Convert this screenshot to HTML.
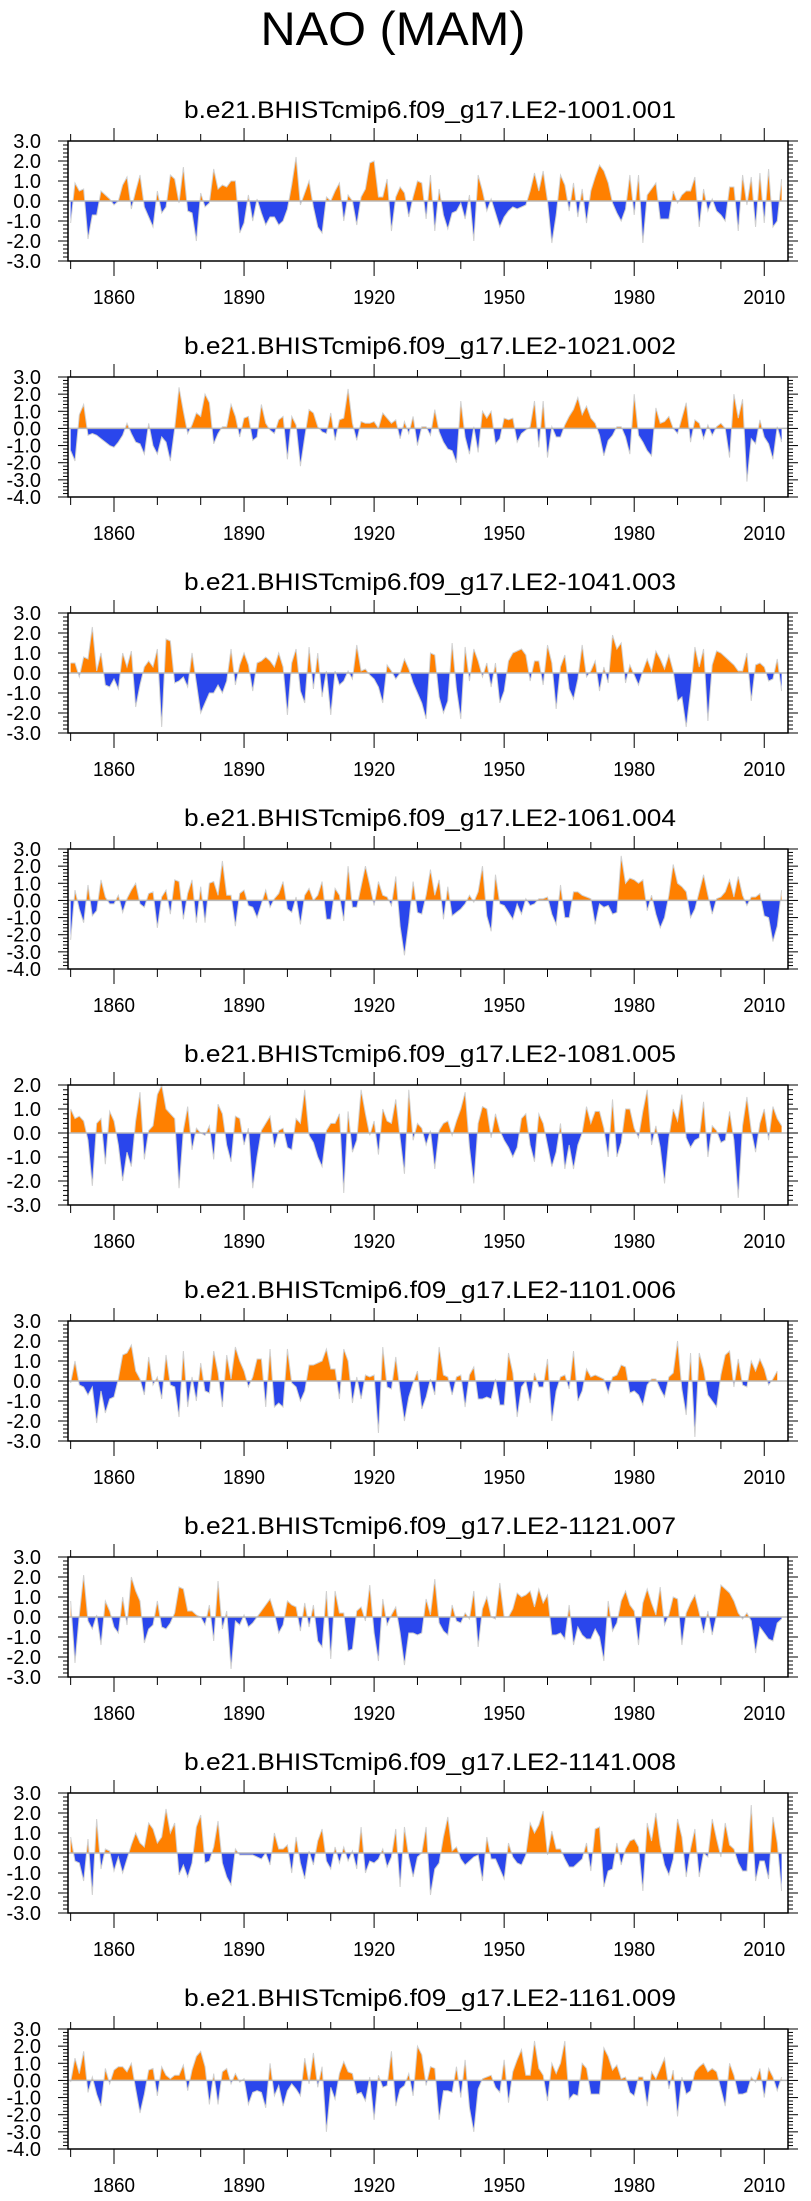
<!DOCTYPE html>
<html><head><meta charset="utf-8"><style>
html,body{margin:0;padding:0;background:#fff;}
svg{display:block;font-family:"Liberation Sans",Arial,sans-serif;}
</style></head><body>
<svg id="chart" width="811" height="2201" viewBox="0 0 811 2201" xmlns="http://www.w3.org/2000/svg">
<text x="393" y="45" font-size="47" text-anchor="middle" textLength="265" lengthAdjust="spacingAndGlyphs">NAO (MAM)</text>
</svg>
<script>
const startYear = 1850;
const titles = ["b.e21.BHISTcmip6.f09_g17.LE2-1001.001","b.e21.BHISTcmip6.f09_g17.LE2-1021.002","b.e21.BHISTcmip6.f09_g17.LE2-1041.003","b.e21.BHISTcmip6.f09_g17.LE2-1061.004","b.e21.BHISTcmip6.f09_g17.LE2-1081.005","b.e21.BHISTcmip6.f09_g17.LE2-1101.006","b.e21.BHISTcmip6.f09_g17.LE2-1121.007","b.e21.BHISTcmip6.f09_g17.LE2-1141.008","b.e21.BHISTcmip6.f09_g17.LE2-1161.009"];
const yMins = [-3,-4,-3,-4,-3,-3,-3,-3,-4];
const yMaxs = [3,3,3,3,2,3,3,3,3];
const xTickYears = [1860,1890,1920,1950,1980,2010];
const s1 = [-1.1,0.9,0.5,0.6,-1.9,-0.7,-0.7,0.5,0.3,0.1,-0.2,0.0,0.8,1.2,-0.4,0.5,1.3,-0.3,-0.8,-1.3,0.5,-0.6,-0.3,1.3,1.1,-0.1,1.7,-0.5,-0.6,-2.0,0.4,-0.3,-0.1,1.6,0.6,0.8,0.7,1.0,1.0,-1.6,-1.1,0.3,-1.0,0.1,-0.6,-1.2,-0.8,-0.8,-1.2,-1.0,-0.4,0.8,2.2,-0.2,0.4,1.0,-0.3,-1.3,-1.6,0.2,0.0,0.5,0.9,-1.0,0.3,0.0,-1.2,0.2,0.6,1.9,2.0,0.2,0.2,1.1,-1.5,0.2,0.7,0.4,-0.8,0.2,1.0,0.9,-0.9,1.3,-1.5,0.6,-0.7,-1.4,-0.6,-0.5,-0.1,-0.9,0.3,-2.0,1.3,0.5,-0.5,0.1,-0.6,-1.3,-0.8,-0.5,-0.3,-0.4,-0.3,-0.2,0.5,1.4,0.5,1.5,0.0,-2.1,-0.7,1.3,0.8,-0.5,0.9,-0.8,0.6,-1.1,0.5,1.2,1.8,1.5,0.9,-0.1,-0.6,-1.0,-0.4,1.3,-0.7,1.3,-2.1,0.3,0.6,0.9,-0.9,-0.9,-0.9,0.5,-0.1,0.3,0.5,0.5,1.2,-1.3,0.6,-0.5,0.1,-0.5,-0.7,-1.0,0.7,0.7,-1.5,1.3,-0.2,1.2,-1.3,1.4,-1.1,1.6,-1.3,-1.0,1.1];
const s2 = [-1.3,-1.9,0.8,1.4,-0.4,-0.3,-0.4,-0.6,-0.8,-1.0,-1.1,-0.8,-0.4,0.3,-0.3,-0.8,-0.9,-1.5,0.3,-1.0,-1.5,-0.5,-0.8,-1.9,0.0,2.4,1.0,-0.3,0.2,0.9,0.7,2.0,1.5,-0.9,-0.3,0.1,0.1,1.4,0.7,-0.5,0.6,0.7,-0.7,-0.5,1.4,0.3,-0.1,-0.3,0.5,0.7,-1.8,0.7,0.2,-2.2,-0.5,1.1,0.9,0.1,-0.2,-0.3,0.9,-0.7,0.5,0.6,2.3,0.3,-0.7,0.4,0.3,0.3,0.4,0.0,0.9,0.6,0.3,0.5,-0.6,0.4,-0.3,0.7,-1.0,0.1,0.1,-0.4,1.1,-0.2,-0.8,-1.2,-1.3,-2.0,1.6,-0.5,-1.5,0.1,-1.4,1.0,0.6,1.0,-0.9,-0.6,0.6,0.5,0.6,-0.8,-0.3,-0.1,0.1,1.6,-1.1,1.6,-1.7,0.1,-0.5,-0.5,0.2,0.7,1.1,1.8,0.8,1.3,0.6,0.3,-0.4,-1.6,-0.7,-0.4,0.1,0.1,-0.5,-1.5,2.0,-0.4,-0.8,-1.3,-1.6,1.2,0.3,0.4,0.7,0.0,-0.3,0.6,1.5,-0.8,0.5,0.3,-0.6,0.2,-0.4,0.1,0.3,0.0,-1.7,2.0,0.6,1.7,-3.1,-0.6,-0.9,0.5,-0.5,-0.9,-1.8,0.1,-0.8];
const s3 = [0.5,0.5,-0.2,0.8,0.7,2.3,0.1,1.0,-0.6,-0.7,-0.3,-0.8,1.0,0.3,1.1,-1.7,-0.6,0.3,0.6,0.3,1.2,-2.7,1.7,1.6,-0.5,-0.4,-0.2,-0.7,1.0,-0.5,-2.0,-1.5,-1.0,-1.0,-0.6,-1.0,-0.4,1.2,-0.6,0.4,1.0,0.4,-0.9,0.5,0.6,0.8,0.6,0.3,1.0,0.3,-2.1,0.5,1.2,-0.9,-1.5,1.3,-0.8,1.0,-1.2,0.1,-2.1,0.1,-0.6,-0.4,0.1,-0.3,1.4,0.1,0.2,-0.1,-0.3,-0.7,-1.5,0.4,0.1,-0.3,0.0,0.7,0.2,-0.5,-1.0,-1.5,-2.3,1.0,0.9,-1.2,-2.0,-1.4,1.5,-0.8,-2.3,1.3,-0.4,1.2,0.6,-0.2,0.5,-0.7,0.5,-1.5,-0.9,0.6,1.0,1.1,1.2,0.9,-0.4,0.6,0.6,-0.6,1.4,0.5,-1.8,0.3,0.9,-0.8,-1.3,-0.3,1.4,-0.2,0.1,0.6,-0.9,0.3,-0.5,1.9,1.2,1.5,-0.5,0.4,-0.1,-0.6,0.1,0.7,0.1,1.1,0.7,0.2,0.9,0.1,-1.4,-1.2,-2.7,-0.9,1.3,0.3,1.2,-2.4,0.4,1.1,1.0,0.8,0.6,0.4,0.1,0.1,1.0,-1.4,0.4,0.5,0.3,-0.4,-0.3,0.7,-0.9];
const s4 = [-2.3,0.6,-0.5,-1.3,0.9,-0.9,-0.6,1.2,0.2,-0.2,-0.2,0.3,-0.7,0.1,0.6,1.0,-0.2,-0.4,0.4,0.5,-1.6,0.2,0.6,-0.8,1.2,1.1,-1.1,0.4,1.2,-1.3,0.8,-1.3,1.0,1.1,0.3,2.3,0.3,0.3,-1.5,0.4,0.6,-0.3,-0.4,-1.0,-0.2,0.6,-0.4,0.1,0.4,1.1,-0.5,-0.7,0.2,-1.4,0.3,0.7,0.0,0.3,1.1,-1.1,-1.1,0.7,0.3,-1.2,2.0,-0.4,-0.4,0.8,2.0,0.9,-0.3,1.1,0.3,0.2,-0.3,1.4,-1.5,-3.2,-1.3,1.1,-0.7,-0.8,0.3,1.8,0.3,1.2,-1.1,0.8,-0.9,-0.7,-0.5,-0.2,0.3,-0.1,0.5,2.0,-0.9,-1.8,1.5,-0.2,-0.3,-0.7,-1.1,-0.2,-0.8,0.1,-0.3,-0.2,0.1,0.1,0.2,-0.8,-1.4,0.9,-1.0,-1.0,0.5,0.5,0.3,0.2,0.1,-1.4,-0.2,-0.4,-0.3,-0.8,-0.7,2.6,1.0,1.3,1.2,1.0,1.2,-0.6,0.3,-0.8,-1.6,-1.0,0.3,2.1,1.0,0.8,0.5,-1.0,-0.5,0.5,1.5,0.3,-0.8,0.1,0.2,0.5,1.2,0.2,1.4,0.3,-0.3,0.2,0.2,0.4,-0.9,-1.0,-2.4,-1.5,0.6];
const s5 = [1.0,0.6,0.7,0.5,-0.3,-2.2,0.4,0.6,-1.3,0.9,0.5,-0.5,-2.0,-0.8,-1.4,0.5,1.7,-1.1,0.1,0.3,1.6,2.0,1.0,0.8,0.6,-2.3,0.1,1.1,-0.7,0.2,0.0,-0.1,0.3,-1.1,1.2,0.8,-0.5,-1.2,0.7,0.6,-0.5,0.2,-2.3,-1.0,0.1,0.4,0.7,-0.6,0.1,0.2,-0.6,-0.7,0.6,0.4,1.8,-0.1,-0.4,-1.0,-1.4,0.1,0.4,0.4,0.8,-2.5,0.9,-0.8,-0.3,1.8,0.8,-0.1,0.5,-0.9,1.0,0.5,0.4,1.4,-0.2,-1.7,1.8,-0.3,0.4,0.2,-0.5,0.1,-1.5,0.1,0.4,0.5,-0.1,0.5,1.0,1.7,-0.6,-2.1,0.4,1.1,1.0,-0.2,0.8,0.1,-0.3,-0.6,-1.0,-0.6,0.6,0.8,-0.5,-1.2,0.8,0.4,-0.5,-1.4,-0.8,0.4,-1.5,-0.5,-1.5,-0.5,0.0,1.1,0.4,0.9,0.9,0.2,-1.0,1.4,-1.0,-0.4,1.0,1.0,0.2,-0.2,0.9,1.8,-0.5,0.3,-0.6,-2.1,-0.2,1.0,0.5,1.6,-0.2,-0.6,-0.3,-0.2,1.3,-1.0,0.3,0.1,-0.4,-0.3,0.9,-0.3,-2.7,0.3,1.5,0.1,-0.8,0.4,1.0,-0.3,1.1,0.6,0.3];
const s6 = [-0.1,1.0,-0.2,-0.3,-0.7,-0.3,-2.1,-0.5,-1.6,-0.9,-0.8,0.1,1.3,1.4,1.8,0.5,0.1,-0.7,1.2,-0.2,0.2,-0.9,1.3,-0.2,-0.3,-1.8,1.5,-1.3,0.2,-1.0,0.9,-0.5,-0.6,1.5,0.4,-1.3,1.3,0.1,1.7,1.0,0.5,-0.3,0.2,1.1,1.1,-1.3,1.6,-1.3,-1.1,-1.3,1.6,-0.1,-0.3,-1.0,-0.5,0.8,0.8,0.9,1.0,1.6,0.6,0.6,-0.9,1.6,1.0,-1.1,0.2,-0.9,0.3,0.2,0.3,-2.6,1.7,-0.3,-0.4,1.2,-0.5,-2.0,-0.8,-0.1,0.5,-1.4,-0.8,0.1,-0.7,1.7,0.3,0.2,-0.7,0.2,0.3,-1.3,0.3,0.7,-0.9,-0.9,-0.8,-0.9,0.1,-1.2,-1.2,1.4,0.4,-1.8,-0.3,0.0,-1.1,0.4,-0.3,-0.3,1.1,-2.0,-0.5,0.2,0.3,-0.4,1.5,-1.0,-0.5,0.6,0.2,0.3,0.2,0.1,-0.6,0.2,0.3,0.8,0.7,-0.6,-0.5,-0.7,-1.2,-0.2,0.1,0.1,-0.4,-0.8,0.2,0.4,2.0,-0.4,-1.7,1.4,-2.8,1.4,0.6,-0.7,-1.0,-1.3,0.3,1.3,1.5,-0.3,1.1,-0.2,-0.3,1.0,0.5,1.1,0.6,-0.2,0.1,0.5];
const s7 = [0.8,-2.3,0.1,2.1,-0.2,-0.6,0.1,-1.4,0.8,0.3,-0.5,-0.8,1.0,-0.4,2.0,1.3,0.8,-1.3,-0.6,-0.4,0.8,-0.5,-0.6,-0.3,0.2,1.5,1.4,0.3,0.3,0.1,0.0,-0.4,0.6,-1.2,1.8,-0.6,0.3,-2.6,-0.2,-0.4,0.1,-0.5,-0.3,0.0,0.3,0.6,0.9,0.2,-0.8,-0.4,0.8,0.6,0.5,-0.7,0.7,-0.5,0.6,-1.2,-1.5,1.3,-2.1,1.3,0.2,0.2,-1.7,-1.6,0.3,0.5,-0.2,1.6,-0.8,-2.2,0.9,-0.4,0.1,0.5,-0.8,-2.4,-0.8,-0.8,-0.9,-0.8,0.9,0.1,1.9,-0.3,-0.7,-0.9,0.6,-0.2,-0.3,0.2,-0.1,1.3,-1.5,0.4,1.0,0.0,-0.1,1.7,0.0,0.0,0.4,1.2,1.0,1.1,1.3,0.5,1.4,0.7,1.1,-0.9,-0.9,-0.8,-1.1,0.6,-1.4,-0.5,-0.9,-1.1,-1.1,-0.6,-1.0,-2.2,0.8,-0.7,-0.3,0.8,1.3,0.6,0.3,-1.4,0.7,1.4,0.7,0.1,1.5,-0.4,0.1,1.0,0.9,-1.4,0.2,0.7,1.1,0.2,-0.8,0.3,-0.9,0.1,1.6,1.4,1.2,0.8,0.2,-0.1,0.2,-0.2,-1.8,-0.5,-0.8,-1.1,-1.2,-0.3,-0.1];
const s8 = [0.8,-0.4,-0.5,-1.4,0.7,-2.1,1.7,-0.8,0.2,0.1,-0.9,-0.2,-1.0,-0.3,0.4,1.0,0.5,0.3,1.5,1.2,0.5,0.8,2.2,1.0,1.5,-1.1,-0.6,-1.2,-0.5,1.3,1.9,-0.5,-0.4,0.3,1.6,-0.5,-1.2,-1.6,0.2,-0.1,-0.1,-0.1,-0.1,-0.2,-0.3,0.0,-0.6,1.0,0.2,0.2,0.4,-1.0,0.8,-0.5,-1.3,0.1,-0.6,0.6,1.2,-0.4,-0.8,0.3,-0.5,0.3,-0.4,0.1,-0.8,1.3,-1.0,-0.4,-0.5,-0.3,0.2,-0.7,-0.2,1.2,-1.7,1.3,-0.2,-1.2,-0.2,0.0,1.3,-2.1,-0.8,-0.5,0.8,1.8,0.1,0.3,-0.3,-0.6,-0.4,-0.2,-0.1,-1.4,0.8,-0.3,-0.3,-0.8,-1.3,0.5,-0.2,-0.5,-0.6,-0.1,1.5,1.0,1.4,2.1,-0.1,1.1,0.2,0.2,-0.3,-0.7,-0.7,-0.5,-0.3,0.5,-0.9,1.2,1.3,-1.7,-0.9,-0.8,0.5,-0.6,0.2,0.6,0.7,0.3,-1.9,1.5,0.6,2.0,0.4,-0.6,-1.1,-0.3,1.7,0.8,-1.2,0.2,1.2,-1.2,0.0,-0.2,1.7,0.7,-0.2,1.5,0.4,0.2,-0.5,-0.9,-0.9,2.4,-1.4,-0.4,-0.4,-1.3,1.8,0.5,-1.9];
const s9 = [-0.1,1.3,0.4,1.7,-0.7,0.2,-0.8,-1.5,0.7,-0.2,0.6,0.8,0.8,0.5,1.0,-0.5,-1.9,-0.8,0.6,0.7,-0.9,0.8,0.3,0.1,0.3,0.3,0.9,-0.6,0.6,1.4,1.7,0.8,-1.4,0.4,-1.4,0.5,0.7,-0.2,0.4,-0.1,0.1,-1.4,-0.7,-0.6,-0.7,-1.6,1.0,-0.9,-0.3,-1.5,-0.6,-0.2,-0.5,-0.9,1.3,-0.2,1.6,-0.4,0.8,-3.0,-0.4,-1.1,0.4,1.1,0.5,0.4,-0.8,-0.7,-1.2,0.2,-2.3,0.3,-0.4,-0.3,1.7,-1.5,-0.5,-0.3,0.4,-0.9,2.0,1.5,-0.3,0.8,0.7,-2.3,-0.6,-0.6,-0.7,0.8,-1.0,1.2,-1.6,-3.0,-0.5,0.1,0.2,0.3,-0.4,-0.7,1.2,-1.3,0.5,1.2,1.8,0.3,0.3,2.3,0.7,0.3,-1.2,1.0,0.4,1.0,2.3,-1.1,-0.8,-0.9,1.0,0.7,-0.8,-0.8,-0.8,1.9,1.4,0.6,0.9,0.1,0.2,-0.7,-0.9,0.2,0.2,-1.5,0.5,0.1,0.7,1.3,-0.5,0.6,-2.1,0.2,-0.8,-0.6,0.5,0.8,1.0,0.5,0.7,0.5,-0.5,-1.5,1.0,0.3,-0.8,-0.8,-0.7,0.2,-0.1,0.7,-1.0,0.7,0.2,-0.6,0.2];
const seriesList = [s1,s2,s3,s4,s5,s6,s7,s8,s9];

const svg = document.getElementById('chart');
const NS = 'http://www.w3.org/2000/svg';
const X0 = 68, X1 = 788, PH = 120, TOP0 = 141, PITCH = 236;
function xScale(year){ return 114 + (year - 1860) * 4.335; }
function mk(tag, attrs, parent){ const e = document.createElementNS(NS, tag); for (const k in attrs) e.setAttribute(k, attrs[k]); (parent||svg).appendChild(e); return e; }

seriesList.forEach(function(vals, p){
  const top = TOP0 + p * PITCH, bot = top + PH;
  const ymin = yMins[p], ymax = yMaxs[p];
  function yScale(v){ return top + (ymax - v) / (ymax - ymin) * PH; }
  const g = mk('g', {});
  
  

  const t = mk('text', {x: 430, y: top - 23, 'font-size': 24, 'text-anchor': 'middle', textLength: 492, lengthAdjust: 'spacingAndGlyphs'}, g);
  
  
  t.textContent = titles[p];

  const y0 = yScale(0);
  let pts = [];
  vals.forEach(function(v, i){ pts.push(xScale(startYear + i).toFixed(2) + ',' + yScale(v).toFixed(2)); });
  const xa = xScale(startYear), xb = xScale(startYear + vals.length - 1);
  const area = 'M' + xa.toFixed(2) + ',' + y0 + ' L' + pts.join(' L') + ' L' + xb.toFixed(2) + ',' + y0 + ' Z';
  const cpA = mk('clipPath', {id: 'ca' + p}, g); mk('rect', {x: X0, y: top, width: X1 - X0, height: y0 - top}, cpA);
  const cpB = mk('clipPath', {id: 'cb' + p}, g); mk('rect', {x: X0, y: y0, width: X1 - X0, height: bot - y0}, cpB);
  const pos = mk('path', {d: area, fill: '#ff8000', 'clip-path': 'url(#ca' + p + ')'}, g);
  
  
  const neg = mk('path', {d: area, fill: '#2a46ec', 'clip-path': 'url(#cb' + p + ')'}, g);
  
  
  const ln = mk('polyline', {points: pts.join(' '), fill: 'none', stroke: '#d0d0d0', 'stroke-width': 1}, g);
  
  
  const zl = mk('line', {x1: X0, x2: X1, y1: y0, y2: y0, stroke: '#b8b8b8', 'stroke-width': 1.5}, g);
  
  

  const fr = mk('rect', {x: X0, y: top, width: X1 - X0, height: PH, fill: 'none', stroke: '#000', 'stroke-width': 1.5}, g);
  
  

  // y ticks
  for (let k = Math.round(ymin * 5); k <= Math.round(ymax * 5); k++) {
    const v = k / 5, y = yScale(v), major = (k % 5 === 0);
    const L = major ? 10 : 5;
    mk('line', {x1: X0 - L, x2: X0, y1: y, y2: y, stroke: '#000', 'stroke-width': 1}, g);
    mk('line', {x1: X1, x2: X1 + L, y1: y, y2: y, stroke: '#000', 'stroke-width': 1}, g);
    if (major) {
      const lb = mk('text', {x: 41, y: y + 7, 'font-size': 20, 'text-anchor': 'end'}, g);
      
      
      lb.textContent = v.toFixed(1);
    }
  }
  // x ticks
  for (let yr = 1850; yr <= 2010; yr += 10) {
    const x = xScale(yr), major = xTickYears.indexOf(yr) >= 0;
    mk('line', {x1: x, x2: x, y1: top, y2: top - (major ? 13 : 7), stroke: '#000', 'stroke-width': 1}, g);
    mk('line', {x1: x, x2: x, y1: bot, y2: bot + (major ? 15 : 8), stroke: '#000', 'stroke-width': 1}, g);
  }
  xTickYears.forEach(function(yr){
    const lb = mk('text', {x: xScale(yr), y: bot + 43, 'font-size': 20, 'text-anchor': 'middle', textLength: 42, lengthAdjust: 'spacingAndGlyphs'}, g);
    
    
    lb.textContent = String(yr);
  });
});
</script>
</body></html>
